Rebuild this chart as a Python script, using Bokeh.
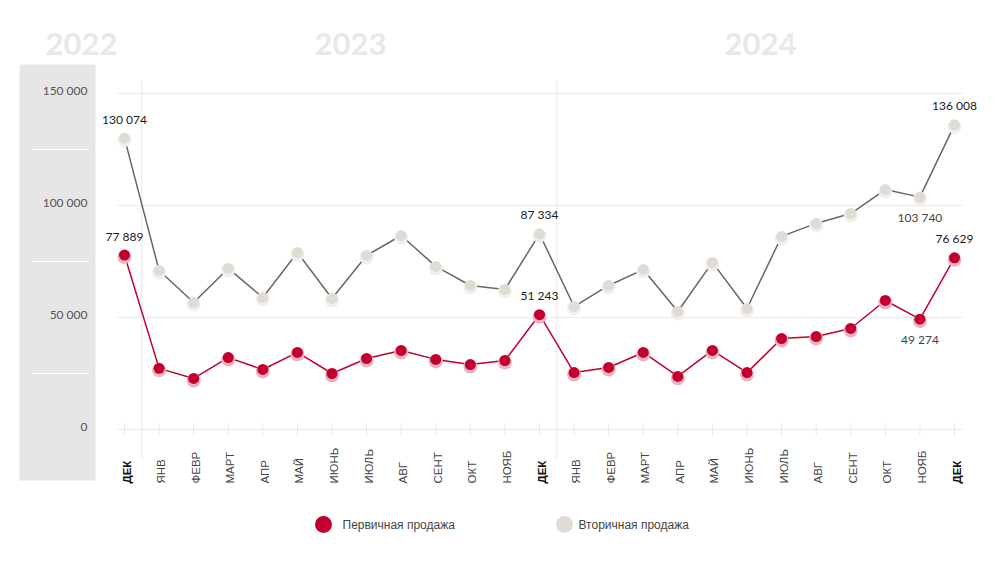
import numpy as np
from bokeh.plotting import figure
from bokeh.models import Range1d
from bokeh.core.properties import value
from bokeh.embed import file_html
from bokeh.resources import INLINE

# ---------------- data ----------------
months = ["ДЕК", "ЯНВ", "ФЕВР", "МАРТ", "АПР", "МАЙ", "ИЮНЬ", "ИЮЛЬ", "АВГ", "СЕНТ", "ОКТ", "НОЯБ",
          "ДЕК", "ЯНВ", "ФЕВР", "МАРТ", "АПР", "МАЙ", "ИЮНЬ", "ИЮЛЬ", "АВГ", "СЕНТ", "ОКТ", "НОЯБ", "ДЕК"]
primary = [77889, 27300, 22800, 32100, 26800, 34400, 25000, 31700, 35300, 31300, 29000, 30800,
           51243, 25400, 27700, 34400, 23700, 35300, 25400, 40600, 41500, 45100, 57600, 49274, 76629]
secondary = [130074, 71000, 56700, 71900, 58900, 79000, 58500, 77700, 86600, 72800, 64300, 62500,
             87334, 54900, 64300, 71400, 52700, 74600, 54000, 86200, 92000, 96400, 107100, 103740, 136008]
years = ["2022", "2023", "2024"]
y_ticks = [0, 50000, 100000, 150000]
y_tick_labels = ["0", "50 000", "100 000", "150 000"]
series_names = ["Первичная продажа", "Вторичная продажа"]
labelled_above = [0, 12, 24]
labelled_below = [23]

RED = "#c2002f"
RED_HALO = "#e9b3c1"
GRAY = "#e0dcd5"
GRAY_HALO = "#f1efeb"
LINE_GRAY = "#666666"

W, H = 985, 556
X0_PX, STEP_PX = 124.0, 830.0 / 24
Y0_PX, PX_PER = 429.0, 112.0 / 50000

def dx(px):
    return (px - X0_PX) / STEP_PX

def dy(py):
    return (Y0_PX - py) / PX_PER

p = figure(width=W, height=H, output_backend="svg", toolbar_location=None,
           x_axis_location=None, y_axis_location=None, min_border=0,
           x_range=Range1d(dx(0), dx(W)), y_range=Range1d(dy(H), dy(0)))
p.outline_line_color = None
p.xgrid.visible = False
p.ygrid.visible = False
p.background_fill_color = "white"
p.border_fill_color = "white"

n = len(months)
xs = np.arange(n)

# gray left panel
p.quad(left=[dx(19)], right=[dx(95)], top=[dy(64)], bottom=[dy(480)],
       fill_color="#e6e6e6", line_color=None)
for v in [25000, 75000, 125000]:
    p.segment(x0=[dx(32)], x1=[dx(88)], y0=[v], y1=[v], line_color="white", line_width=1)

# grid lines
for v in y_ticks:
    p.segment(x0=[dx(117)], x1=[dx(963)], y0=[v], y1=[v], line_color="#ebebeb", line_width=1)
# year separators
for xi in [0.5, 12.5]:
    p.segment(x0=[xi], x1=[xi], y0=[dy(80)], y1=[dy(458)], line_color="#e8e8e8", line_width=1)
# ticks
p.segment(x0=xs, x1=xs, y0=[dy(423)] * n, y1=[dy(435)] * n, line_color="#e8e8e8", line_width=1)

# y tick labels
p.text(x=[dx(87)] * 4, y=y_ticks, text=y_tick_labels, text_align="right", text_baseline="middle",
       y_offset=-3, text_font=value("Lato"), text_font_size="12px", text_color="#555555")

# year labels
p.text(x=[dx(81), dx(350), dx(760)], y=[dy(43)] * 3, text=years, text_align="center",
       text_baseline="middle", text_font=value("Lato"), text_font_style="bold",
       text_font_size="31px", text_color="#e8e8e8")

# x labels
bold_idx = [i for i, m in enumerate(months) if m == "ДЕК"]
norm_idx = [i for i in range(n) if i not in bold_idx]
p.text(x=norm_idx, y=[dy(483)] * len(norm_idx), text=[months[i] for i in norm_idx], angle=np.pi / 2,
       text_align="left", text_baseline="middle", x_offset=2, text_font=value("Liberation Sans"),
       text_font_size="11.5px", text_color="#444444")
p.text(x=bold_idx, y=[dy(483)] * len(bold_idx), text=[months[i] for i in bold_idx], angle=np.pi / 2,
       text_align="left", text_baseline="middle", x_offset=2, text_font=value("Liberation Sans"),
       text_font_style="bold", text_font_size="11.5px", text_color="#111111")

# lines
p.line(xs, secondary, line_color=LINE_GRAY, line_width=1.5)
p.line(xs, primary, line_color=RED, line_width=1.5)

halo_shift = 2 / PX_PER
p.scatter(xs, np.array(secondary) - halo_shift, size=14, fill_color=GRAY_HALO, line_color=None)
p.scatter(xs, secondary, size=11, fill_color=GRAY, line_color=None)
p.scatter(xs, np.array(primary) - halo_shift, size=14, fill_color=RED_HALO, line_color=None)
p.scatter(xs, primary, size=11, fill_color=RED, line_color=None)

def fmt(v):
    return f"{v:,}".replace(",", " ")

p.text(x=labelled_above * 2,
       y=[primary[i] for i in labelled_above] + [secondary[i] for i in labelled_above],
       text=[fmt(primary[i]) for i in labelled_above] + [fmt(secondary[i]) for i in labelled_above],
       text_align="center", text_baseline="middle", y_offset=-19,
       text_font=value("Lato"), text_font_size="12px", text_color="#1a1a1a")
p.text(x=labelled_below * 2,
       y=[primary[i] for i in labelled_below] + [secondary[i] for i in labelled_below],
       text=[fmt(primary[i]) for i in labelled_below] + [fmt(secondary[i]) for i in labelled_below],
       text_align="center", text_baseline="middle", y_offset=20,
       text_font=value("Lato"), text_font_size="12px", text_color="#444444")

# legend
p.scatter([dx(323), dx(564)], [dy(524)] * 2, size=17, fill_color=[RED, GRAY], line_color=None)
p.text(x=[dx(342), dx(578)], y=[dy(524)] * 2, text=series_names, text_align="left",
       text_baseline="middle", text_font=value("Liberation Sans"), text_font_size="12px",
       text_color="#444444")

open("out.html", "w").write(file_html(p, INLINE))
